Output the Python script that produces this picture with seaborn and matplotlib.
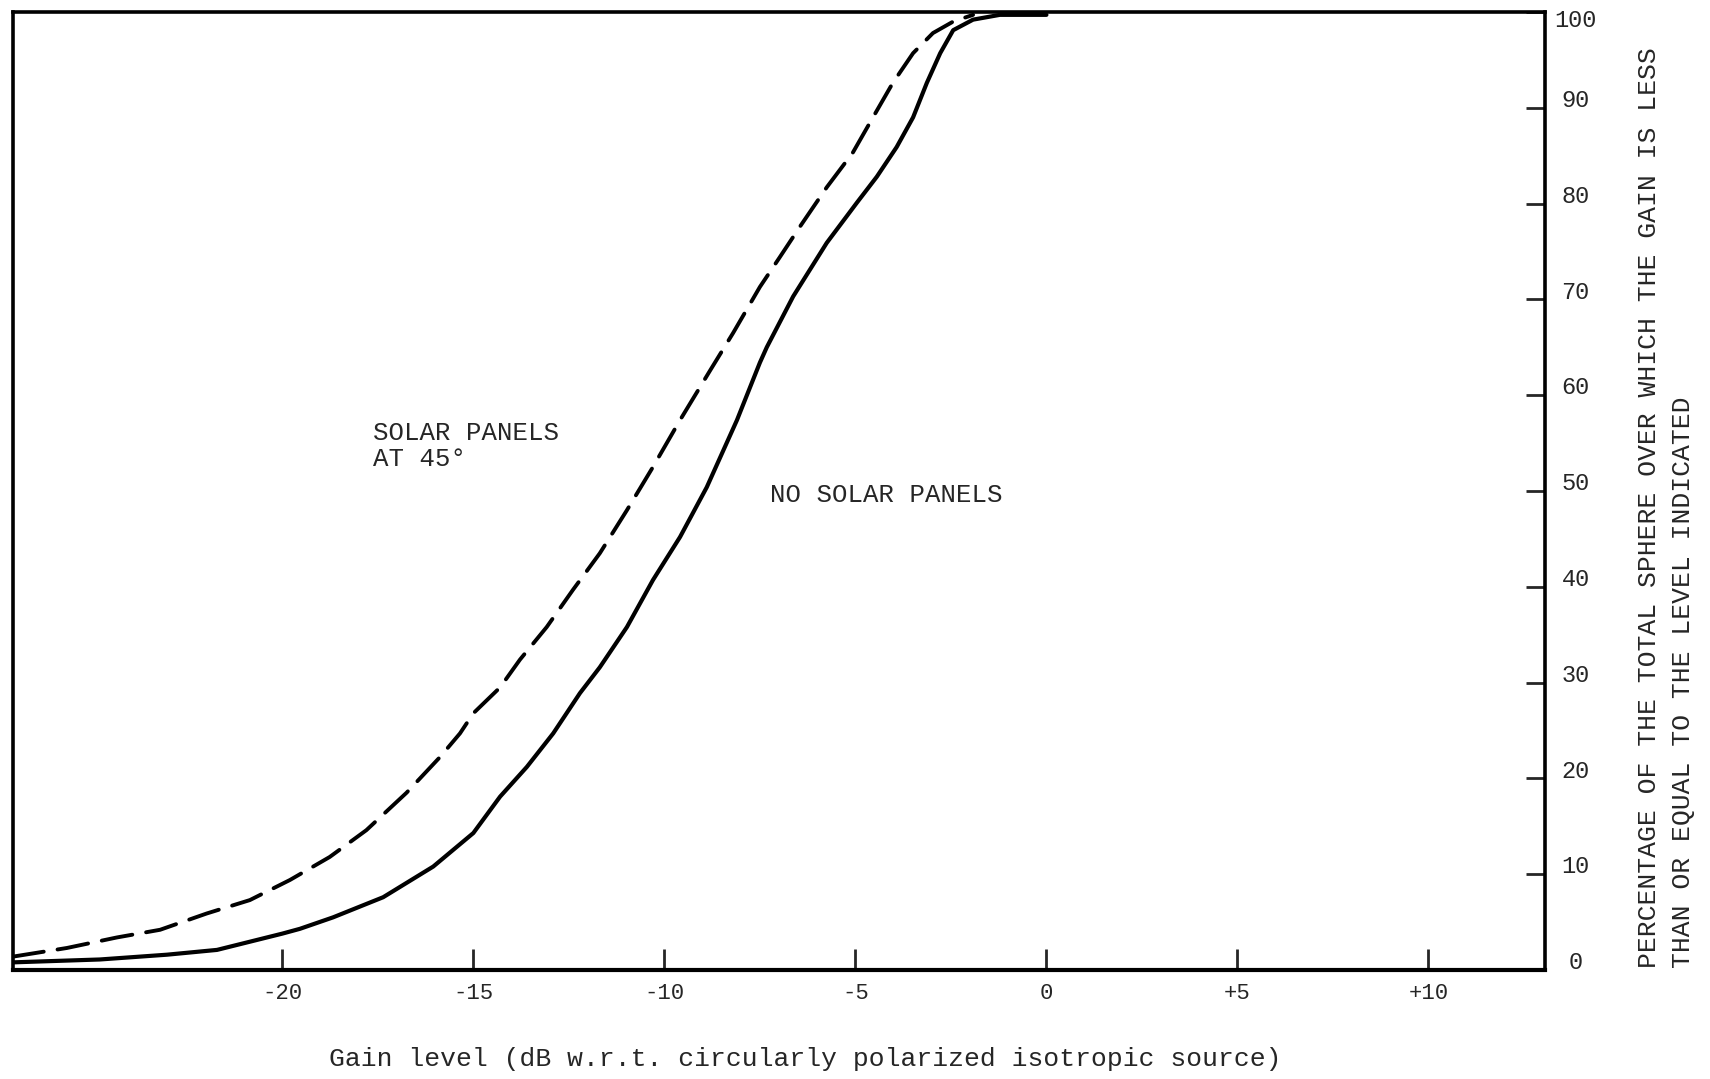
import matplotlib
matplotlib.use("Agg")
import matplotlib.pyplot as plt
import matplotlib.transforms as mtransforms
import numpy as np
import pandas as pd
import seaborn as sns

# gain level (dB) vs percentage of sphere
no_panels_db = [-27.05, -24.78, -23.02, -21.71, -20.0, -19.54, -18.67, -17.36, -16.05, -15.0,
                -14.3, -13.6, -12.91, -12.21, -11.69, -10.98, -10.3, -9.59, -8.89, -8.1,
                -7.5, -7.32, -6.63, -5.75, -4.96, -4.44, -3.92, -3.49, -3.13, -2.78,
                -2.44, -1.92, -1.22, 0.0]
no_panels_pct = [0.8, 1.1, 1.6, 2.1, 3.8, 4.3, 5.5, 7.6, 10.8, 14.3,
                 18.1, 21.2, 24.7, 28.9, 31.6, 35.8, 40.7, 45.2, 50.4, 57.4,
                 63.4, 65.0, 70.3, 75.9, 80.1, 82.8, 85.9, 89.0, 92.6, 95.7,
                 98.1, 99.2, 99.7, 99.7]

panels45_db = [-27.05, -25.64, -24.33, -23.2, -21.98, -20.85, -19.8, -18.76, -17.8, -16.75,
               -15.88, -15.35, -15.0, -14.3, -13.78, -13.08, -12.39, -11.69, -10.98, -10.3,
               -9.59, -8.8, -8.2, -7.5, -6.98, -6.45, -5.75, -5.07, -4.54, -4.02,
               -3.49, -2.97, -2.44, -1.92]
panels45_pct = [1.4, 2.3, 3.4, 4.2, 5.9, 7.3, 9.4, 11.8, 14.6, 18.5,
                22.2, 24.7, 26.8, 29.5, 32.4, 35.8, 39.7, 43.5, 48.0, 52.5,
                57.4, 62.6, 66.5, 71.3, 74.4, 77.6, 81.7, 85.3, 89.0, 92.6,
                95.7, 97.8, 99.0, 99.7]

x_ticks = [-20, -15, -10, -5, 0, 5, 10]
x_tick_labels = ["-20", "-15", "-10", "-5", "0", "+5", "+10"]
y_ticks = [0, 10, 20, 30, 40, 50, 60, 70, 80, 90, 100]

sns.set_style("ticks")
plt.rcParams["font.family"] = ["Liberation Mono", "DejaVu Sans Mono"]

fig = plt.figure(figsize=(17.1, 10.79), dpi=100)
ax = fig.add_axes([0.0076, 0.101, 0.8959, 0.8879])

df_none = pd.DataFrame({"gain": no_panels_db, "pct": no_panels_pct})
df_45 = pd.DataFrame({"gain": panels45_db, "pct": panels45_pct})

sns.lineplot(data=df_none, x="gain", y="pct", ax=ax, color="black", lw=3.0,
             sort=False, estimator=None)
ax.lines[-1].set_solid_joinstyle("round")
sns.lineplot(data=df_45, x="gain", y="pct", ax=ax, color="black", lw=2.8,
             sort=False, estimator=None)
ax.lines[-1].set_dashes((8, 3.6))
ax.lines[-1].set_dash_capstyle("round")

ax.set_xlim(-27.05, 13.05)
ax.set_ylim(0, 100)

for side in ["left", "right", "top", "bottom"]:
    ax.spines[side].set_linewidth(2.6)
    ax.spines[side].set_color("black")
ax.spines["bottom"].set_linewidth(3.0)

ax.set_xticks(x_ticks)
ax.set_xticklabels(x_tick_labels)
ax.yaxis.tick_right()
ax.set_yticks(y_ticks)
ax.set_yticklabels([str(v) for v in y_ticks])
ax.tick_params(axis="x", direction="in", length=15, width=2.0, pad=9, labelsize=16)
ax.tick_params(axis="y", direction="in", length=14, width=2.0, pad=22, labelsize=17)
for val, lbl in zip(y_ticks, ax.get_yticklabels()):
    lbl.set_horizontalalignment("center")
    dy = -4 if val == 100 else 7
    lbl.set_transform(lbl.get_transform() +
                      mtransforms.ScaledTranslation(0, dy / 72, fig.dpi_scale_trans))

ax.set_xlabel("")
ax.set_ylabel("")

# annotations
ax.text(-17.63, 54.7, "SOLAR PANELS\nAT 45°", fontsize=18.5, ha="left", va="center",
        linespacing=1.15)
ax.text(-7.24, 49.6, "NO SOLAR PANELS", fontsize=18.5, ha="left", va="center")

fig.text(805 / 1710, 1 - 1059 / 1079,
         "Gain level (dB w.r.t. circularly polarized isotropic source)",
         fontsize=19, ha="center", va="center")

fig.text(1649 / 1710, 1 - 968 / 1079,
         "PERCENTAGE OF THE TOTAL SPHERE OVER WHICH THE GAIN IS LESS",
         fontsize=19, rotation=90, ha="center", va="bottom")
fig.text(1683 / 1710, 1 - 968 / 1079,
         "THAN OR EQUAL TO THE LEVEL INDICATED",
         fontsize=19, rotation=90, ha="center", va="bottom")

fig.savefig("out.png", dpi=100, facecolor="white")
